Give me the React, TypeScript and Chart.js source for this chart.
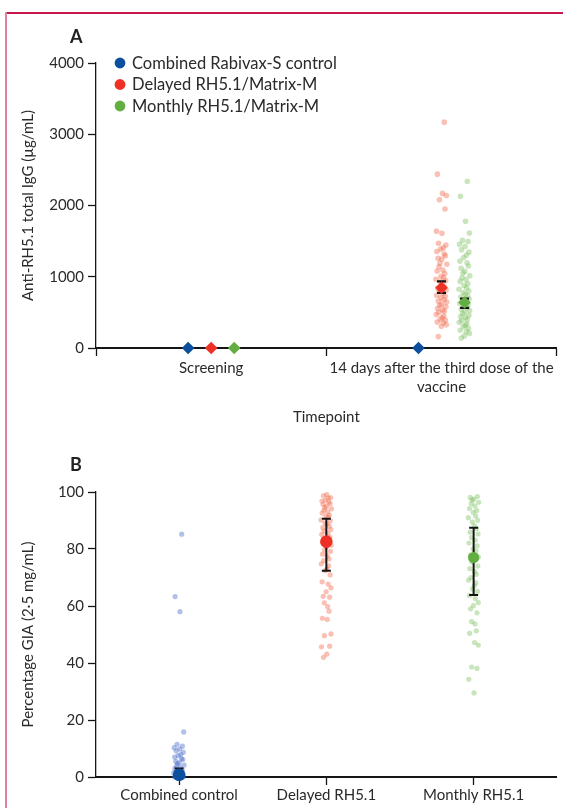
import React, { useEffect, useRef } from 'react';
import { Chart, registerables } from 'chart.js';

Chart.register(...registerables);

const FONT = 'Lato, "Noto Sans", sans-serif';
const TEXT = '#2a2a2a';
const AXIS = '#151515';

// ---------- Panel A data ----------
const timepoints: (string | string[])[] = ['Screening', ['14 days after the third dose of the', 'vaccine']];
const groupNames = ['Combined Rabivax-S control', 'Delayed RH5.1/Matrix-M', 'Monthly RH5.1/Matrix-M'];
const groupColors = ['#0b4f9e', '#ee3124', '#63ae43'];
const pointColors = ['rgba(70,105,200,0.42)', 'rgba(240,105,75,0.42)', 'rgba(120,190,90,0.4)'];

const screeningMean = [0, 0, 0];
const day14Mean = [0, 845, 638];
const day14Lo = [0, 775, 563];
const day14Hi = [0, 935, 694];

const delayedIgG = [3170, 2440, 2170, 2140, 2080, 1950, 1640, 1610, 1470, 1445, 1405, 1390, 1355, 1320, 1295, 1260, 1245, 1190, 1175, 1140, 1095, 1080, 1045, 1005, 990, 965, 945, 925, 885, 860, 840, 815, 795, 765, 740, 725, 705, 680, 660, 645, 615, 600, 580, 555, 535, 515, 500, 470, 450, 425, 405, 390, 365, 350, 325, 305, 160];
const monthlyIgG = [2340, 2130, 1780, 1615, 1510, 1495, 1455, 1425, 1380, 1345, 1305, 1270, 1220, 1195, 1150, 1120, 1075, 1050, 1015, 985, 960, 935, 905, 875, 845, 825, 800, 780, 755, 735, 715, 690, 670, 655, 625, 605, 590, 565, 545, 525, 505, 480, 460, 440, 425, 400, 385, 360, 340, 320, 300, 275, 250, 230, 205, 170, 140];

// ---------- Panel B data ----------
const giaCategories = ['Combined control', 'Delayed RH5.1', 'Monthly RH5.1'];
const giaMean = [0.8, 82.6, 77.0];
const giaLo = [0, 72.4, 63.9];
const giaHi = [3.0, 90.6, 87.5];

const controlGIA = [85.2, 63.3, 58.0, 15.8, 11.5, 10.8, 10.3, 9.8, 9.2, 8.7, 7.9, 7.5, 7.0, 6.4, 6.1, 5.5, 5.0, 4.7, 4.2, 3.8, 3.3, 3.0, 2.6, 2.2, 1.9, 1.5, 1.2, 0.9, 0.6, 0.4, 0.2, 0.1, 0, 0, 0, 0];
const delayedGIA = [99.1, 98.7, 98.0, 97.9, 97.1, 96.8, 96.5, 95.9, 95.6, 95.0, 94.5, 94.1, 93.6, 93.0, 92.6, 91.9, 91.5, 91.1, 90.2, 89.9, 89.1, 88.8, 88.0, 87.5, 86.8, 86.3, 85.5, 85.1, 84.2, 83.6, 82.8, 82.2, 81.3, 80.7, 79.7, 79.2, 78.2, 77.6, 76.5, 75.9, 74.8, 74.1, 73.0, 72.4, 70.9, 68.5, 67.7, 66.4, 65.0, 63.4, 63.1, 61.1, 59.8, 58.2, 55.7, 55.3, 50.2, 49.6, 45.9, 45.7, 43.1, 42.0];
const monthlyGIA = [98.4, 98.1, 97.5, 97.2, 96.4, 95.9, 95.1, 94.2, 93.5, 92.9, 91.6, 91.0, 90.1, 89.5, 88.2, 87.2, 85.9, 85.3, 84.0, 83.1, 82.1, 81.1, 80.0, 79.3, 77.9, 77.2, 75.9, 75.4, 74.0, 73.1, 72.1, 71.1, 70.0, 69.1, 68.1, 67.1, 66.0, 65.1, 63.7, 62.6, 61.2, 60.1, 59.0, 57.6, 54.5, 53.7, 51.3, 50.4, 47.2, 46.3, 38.6, 38.1, 34.3, 29.5];

// hand-written horizontal jitter offsets (fraction of one category unit)
const jitter = [0.012, -0.018, 0.004, 0.021, -0.009, 0.015, -0.022, 0.002, -0.013, 0.019, 0.008, -0.004, -0.02, 0.011, 0.017, -0.015, 0.001, -0.007, 0.023, -0.011, 0.006, -0.019, 0.014, -0.002, 0.009, -0.024, 0.018, -0.006, 0.003, 0.013, -0.016, 0.02, -0.01, 0.007, -0.021, 0.016, -0.003, 0.011, -0.014, 0.022, 0.0, -0.008, 0.019, -0.017, 0.005, 0.012, -0.012, -0.023, 0.01, 0.003, -0.005, 0.017, -0.019, 0.008, 0.021, -0.001, -0.014, 0.015, -0.009, 0.006];

type Bar = { x: number; lo: number; hi: number };

function errorBarPlugin(items: Bar[], cap: number, lw: number) {
  return {
    id: 'errbars',
    beforeDatasetDraw(chart: any, args: any) {
      if (args.index !== 0) return;
      const { ctx } = chart;
      const xs = chart.scales.x;
      const ys = chart.scales.y;
      ctx.save();
      ctx.strokeStyle = AXIS;
      ctx.lineWidth = lw;
      items.forEach((it) => {
        if (it.lo === it.hi) return;
        const px = xs.getPixelForValue(it.x);
        const y1 = ys.getPixelForValue(it.lo);
        const y2 = ys.getPixelForValue(it.hi);
        ctx.beginPath();
        ctx.moveTo(px, y1);
        ctx.lineTo(px, y2);
        ctx.moveTo(px - cap, y1);
        ctx.lineTo(px + cap, y1);
        ctx.moveTo(px - cap, y2);
        ctx.lineTo(px + cap, y2);
        ctx.stroke();
      });
      ctx.restore();
    },
  };
}

const legendPlugin = {
  id: 'legendA',
  afterDraw(chart: any) {
    const { ctx } = chart;
    ctx.save();
    ctx.font = `16.5px ${FONT}`;
    ctx.textBaseline = 'middle';
    ctx.textAlign = 'left';
    groupNames.forEach((name, i) => {
      const y = 63 + i * 21.5;
      ctx.beginPath();
      ctx.fillStyle = groupColors[i];
      ctx.arc(120, y, 5.4, 0, Math.PI * 2);
      ctx.fill();
      ctx.fillStyle = TEXT;
      ctx.fillText(name, 132, y + 0.5);
    });
    ctx.restore();
  },
};

function buildA(): any {
  const groupOffset = [-0.1, 0, 0.1];
  const meanPts: any[] = [];
  const meanCols: string[] = [];
  screeningMean.forEach((v, g) => {
    meanPts.push({ x: 0.5 + groupOffset[g], y: v });
    meanCols.push(groupColors[g]);
  });
  day14Mean.forEach((v, g) => {
    meanPts.push({ x: 1.5 + groupOffset[g], y: v });
    meanCols.push(groupColors[g]);
  });
  const bars: Bar[] = day14Mean.map((_, g) => ({ x: 1.5 + groupOffset[g], lo: day14Lo[g], hi: day14Hi[g] }));
  const scatter = (vals: number[], g: number) => ({
    data: vals.map((v, i) => ({ x: 1.5 + groupOffset[g] + jitter[i % jitter.length], y: v })),
    pointRadius: 2.8,
    pointBackgroundColor: pointColors[g],
    pointBorderWidth: 0,
    clip: false,
  });
  return {
    type: 'scatter',
    data: {
      datasets: [
        {
          data: meanPts,
          pointStyle: 'rectRot',
          pointRadius: 6.3,
          pointBackgroundColor: meanCols,
          pointBorderWidth: 0,
          clip: false,
        },
        scatter(delayedIgG, 1),
        scatter(monthlyIgG, 2),
      ],
    },
    options: {
      animation: false,
      responsive: false,
      devicePixelRatio: 1,
      layout: { padding: { left: 0, right: 1, top: 63, bottom: 0 } },
      plugins: { legend: { display: false }, tooltip: { enabled: false } },
      scales: {
        x: {
          type: 'linear',
          min: 0,
          max: 2,
          afterBuildTicks: (s: any) => {
            s.ticks = [0, 0.5, 1, 1.5, 2].map((v) => ({ value: v }));
          },
          afterFit: (s: any) => {
            s.height = 92;
          },
          grid: {
            drawOnChartArea: false,
            drawTicks: true,
            tickLength: 8,
            tickWidth: 1.3,
            tickColor: (c: any) => (c.tick && Number.isInteger(c.tick.value) ? AXIS : 'rgba(0,0,0,0)'),
          },
          border: { color: AXIS, width: 2 },
          ticks: {
            autoSkip: false,
            maxRotation: 0,
            padding: 2,
            color: TEXT,
            font: { family: FONT, size: 15, lineHeight: 1.3 },
            callback: (v: number) => (v === 0.5 ? timepoints[0] : v === 1.5 ? timepoints[1] : ''),
          },
          title: {
            display: true,
            text: 'Timepoint',
            color: TEXT,
            font: { family: FONT, size: 15 },
            padding: { top: 0, bottom: 14 },
          },
        },
        y: {
          min: 0,
          max: 4000,
          afterFit: (s: any) => {
            s.width = 96;
          },
          grid: { drawOnChartArea: false, drawTicks: true, tickLength: 8, tickWidth: 1.3, tickColor: AXIS },
          border: { color: AXIS, width: 1.3 },
          ticks: {
            stepSize: 1000,
            padding: 4,
            color: TEXT,
            font: { family: FONT, size: 15 },
            callback: (v: number) => String(v),
          },
          title: {
            display: true,
            text: 'Anti-RH5.1 total IgG (µg/mL)',
            color: TEXT,
            font: { family: FONT, size: 15 },
            padding: { top: 19, bottom: 0 },
          },
        },
      },
    },
    plugins: [errorBarPlugin(bars, 4.5, 2.2), legendPlugin],
  };
}

function buildB(): any {
  const groupVals = [controlGIA, delayedGIA, monthlyGIA];
  const scatter = (vals: number[], g: number) => ({
    data: vals.map((v, i) => ({ x: g + 1.5 * jitter[(i + g * 7) % jitter.length], y: v })),
    pointRadius: 2.6,
    pointBackgroundColor: pointColors[g],
    pointBorderWidth: 0,
    clip: false,
  });
  const bars: Bar[] = giaMean.map((_, g) => ({ x: g, lo: giaLo[g], hi: giaHi[g] }));
  return {
    type: 'scatter',
    data: {
      datasets: [
        {
          data: giaMean.map((v, g) => ({ x: g, y: v })),
          pointStyle: 'circle',
          pointRadius: [6.3, 6.3, 5.6],
          pointBackgroundColor: groupColors,
          pointBorderWidth: 0,
          clip: false,
        },
        ...groupVals.map((vals, g) => scatter(vals, g)),
      ],
    },
    options: {
      animation: false,
      responsive: false,
      devicePixelRatio: 1,
      layout: { padding: { left: 0, right: 1, top: 52, bottom: 0 } },
      plugins: { legend: { display: false }, tooltip: { enabled: false } },
      scales: {
        x: {
          type: 'linear',
          min: -0.564,
          max: 2.564,
          afterBuildTicks: (s: any) => {
            s.ticks = [0, 1, 2].map((v) => ({ value: v }));
          },
          afterFit: (s: any) => {
            s.height = 31;
          },
          grid: { drawOnChartArea: false, drawTicks: true, tickLength: 8, tickWidth: 1.3, tickColor: AXIS },
          border: { color: AXIS, width: 2 },
          ticks: {
            autoSkip: false,
            maxRotation: 0,
            padding: 1,
            color: TEXT,
            font: { family: FONT, size: 15 },
            callback: (v: number) => giaCategories[v] ?? '',
          },
        },
        y: {
          min: 0,
          max: 100,
          afterFit: (s: any) => {
            s.width = 96;
          },
          grid: { drawOnChartArea: false, drawTicks: true, tickLength: 8, tickWidth: 1.3, tickColor: AXIS },
          border: { color: AXIS, width: 1.3 },
          ticks: { stepSize: 20, padding: 4, color: TEXT, font: { family: FONT, size: 15 } },
          title: {
            display: true,
            text: 'Percentage GIA (2·5 mg/mL)',
            color: TEXT,
            font: { family: FONT, size: 15 },
            padding: { top: 19, bottom: 0 },
          },
        },
      },
    },
    plugins: [errorBarPlugin(bars, 4.5, 2)],
  };
}

export default function App() {
  const refA = useRef<HTMLCanvasElement>(null);
  const refB = useRef<HTMLCanvasElement>(null);

  useEffect(() => {
    const a = new Chart(refA.current as HTMLCanvasElement, buildA());
    const b = new Chart(refB.current as HTMLCanvasElement, buildB());
    return () => {
      a.destroy();
      b.destroy();
    };
  }, []);

  const panelLabel: React.CSSProperties = {
    position: 'absolute',
    left: 70,
    fontFamily: FONT,
    fontWeight: 700,
    fontSize: 18,
    lineHeight: '20px',
    color: '#222',
  };

  return (
    <div style={{ position: 'fixed', left: 0, top: 0, width: 563, height: 808, background: '#fff', overflow: 'hidden' }}>
      <canvas ref={refA} width={563} height={440} style={{ position: 'absolute', left: 0, top: 0, width: 563, height: 440 }} />
      <canvas ref={refB} width={563} height={368} style={{ position: 'absolute', left: 0, top: 440, width: 563, height: 368 }} />
      <div style={{ ...panelLabel, top: 26 }}>A</div>
      <div style={{ ...panelLabel, top: 454 }}>B</div>
      <div style={{ position: 'absolute', left: 5, top: 12, right: 0, height: 2, background: '#c8174b' }} />
      <div style={{ position: 'absolute', left: 5, top: 12, bottom: 0, width: 2, background: '#e4809d' }} />
    </div>
  );
}
